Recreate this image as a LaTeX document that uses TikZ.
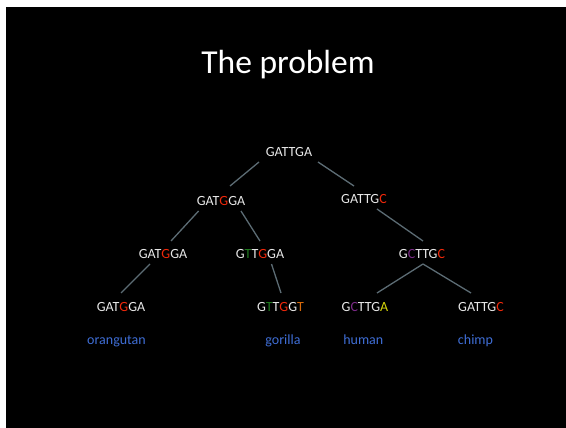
\documentclass[tikz,border=0pt]{standalone}
\usepackage{fontspec}
\setmainfont{Carlito}
\definecolor{bgblack}{HTML}{000000}
\definecolor{txt}{HTML}{E8E8E8}
\definecolor{mred}{HTML}{F0280A}
\definecolor{mgreen}{HTML}{1E7A1E}
\definecolor{mpurple}{HTML}{7A2A86}
\definecolor{morange}{HTML}{D86A0A}
\definecolor{myellow}{HTML}{D8D80A}
\definecolor{lblue}{HTML}{3F6ED6}
\definecolor{edgecol}{HTML}{5C6C74}
\newcommand{\R}[1]{\textcolor{mred}{#1}}
\newcommand{\Gr}[1]{\textcolor{mgreen}{#1}}
\newcommand{\Pu}[1]{\textcolor{mpurple}{#1}}
\newcommand{\Or}[1]{\textcolor{morange}{#1}}
\newcommand{\Ye}[1]{\textcolor{myellow}{#1}}
\begin{document}
\begin{tikzpicture}[x=1pt,y=-1pt,
  seq/.style={anchor=base,inner sep=0pt,text=txt,font=\fontsize{14}{16}\selectfont},
  lbl/.style={anchor=base,inner sep=0pt,text=lblue,font=\fontsize{14}{16}\selectfont},
  edge/.style={draw=edgecol,line width=1.3pt}]
\useasboundingbox (0,0) rectangle (566,428);
\fill[white] (0,0) rectangle (566,428);
\fill[bgblack] (6,7) rectangle (566,428);
\node[anchor=base,inner sep=0pt,text=white,font=\fontsize{33.5}{36}\selectfont] (title) at (288,73.3) {The problem};
\node[seq] (r) at (289,156.7) {GATTGA};
\node[seq] (a) at (221,205.7) {GAT\R{G}GA};
\node[seq] (b) at (364,203.3) {GATTG\R{C}};
\node[seq] (c) at (163,258.3) {GAT\R{G}GA};
\node[seq] (d) at (260,258.3) {G\Gr{T}T\R{G}GA};
\node[seq] (e) at (422,258.3) {G\Pu{C}TTG\R{C}};
\node[seq] (f) at (121,311) {GAT\R{G}GA};
\node[seq] (g) at (280.5,311) {G\Gr{T}T\R{G}G\Or{T}};
\node[seq] (h) at (365,311) {G\Pu{C}TTG\Ye{A}};
\node[seq] (i) at (481,311) {GATTG\R{C}};
\node[lbl] (lo) at (116.5,344) {orangutan};
\node[lbl] (lg) at (283,344) {gorilla};
\node[lbl] (lh) at (363.3,344) {human};
\node[lbl] (lc) at (475.5,344) {chimp};
\draw[edge] ([shift={(-30,5.3)}]r.base) -- ([shift={(9,-19.7)}]a.base);
\draw[edge] ([shift={(29,5.3)}]r.base) -- ([shift={(-10,-17.3)}]b.base);
\draw[edge] ([shift={(-22.4,5.3)}]a.base) -- ([shift={(8,-17.3)}]c.base);
\draw[edge] ([shift={(20,5.3)}]a.base) -- ([shift={(0,-17.3)}]d.base);
\draw[edge] ([shift={(13,5.7)}]b.base) -- ([shift={(1,-17.3)}]e.base);
\draw[edge] ([shift={(-13,5.7)}]c.base) -- ([shift={(0,-18)}]f.base);
\draw[edge] ([shift={(11.5,5.7)}]d.base) -- ([shift={(0.5,-18)}]g.base);
\draw[edge] ([shift={(1,5.7)}]e.base) -- ([shift={(12,-18)}]h.base);
\draw[edge] ([shift={(1,5.7)}]e.base) -- ([shift={(-10,-18)}]i.base);
\end{tikzpicture}
\end{document}
